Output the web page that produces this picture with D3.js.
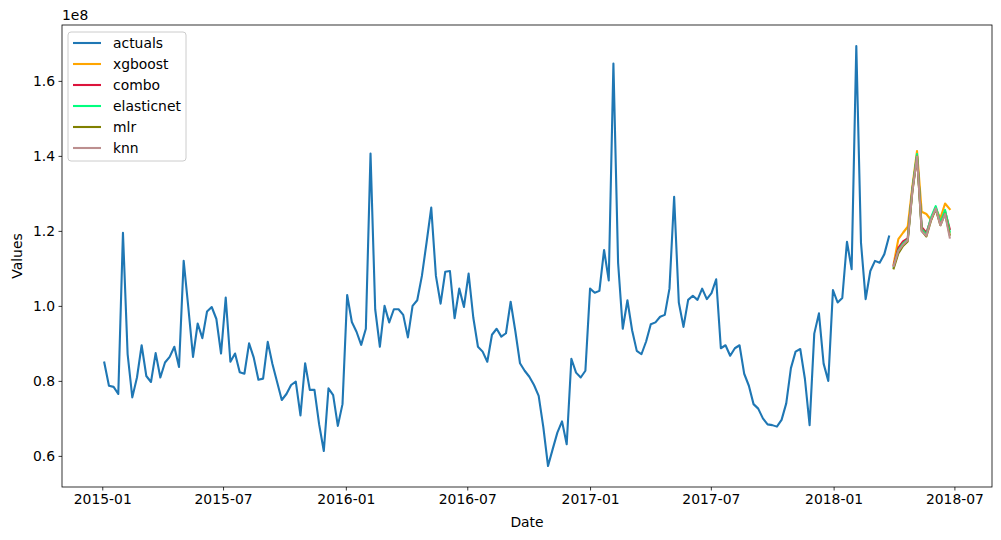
<!DOCTYPE html>
<html>
<head>
<meta charset="utf-8">
<style>
  body { margin: 0; background: #fff; }
  svg { display: block; font-family: "DejaVu Sans", sans-serif; }
  .axis text { font-size: 13.9px; fill: #000; font-family: "DejaVu Sans", sans-serif; }
  .axis path, .axis line { stroke: #000; stroke-width: 0.8; }
</style>
</head>
<body>
<svg id="chart" width="1001" height="540"></svg>
<script src="https://d3js.org/d3.v7.min.js"></script>
<script>
// weekly dates, first week of actuals; forecasts follow on directly
var startDate = new Date(2015, 0, 4);

// actuals (units of 1e8), 2015-01-04 .. 2018-03-25
var actuals = [
  0.849, 0.787, 0.784, 0.765, 1.195, 0.871, 0.756, 0.809, 0.895, 0.813,
  0.797, 0.874, 0.809, 0.849, 0.864, 0.891, 0.837, 1.120, 0.995, 0.864,
  0.953, 0.914, 0.985, 0.997, 0.965, 0.873, 1.022, 0.851, 0.873, 0.823,
  0.819, 0.900, 0.862, 0.803, 0.806, 0.904, 0.845, 0.797, 0.749, 0.765,
  0.789, 0.798, 0.708, 0.847, 0.776, 0.776, 0.684, 0.613, 0.780, 0.762,
  0.680, 0.738, 1.029, 0.957, 0.931, 0.896, 0.939, 1.406, 0.991, 0.891,
  1.000, 0.956, 0.991, 0.991, 0.976, 0.916, 1.000, 1.015, 1.080, 1.169,
  1.262, 1.080, 1.006, 1.091, 1.093, 0.967, 1.046, 0.997, 1.086, 0.969,
  0.891, 0.878, 0.851, 0.923, 0.939, 0.918, 0.927, 1.011, 0.933, 0.847,
  0.827, 0.811, 0.789, 0.760, 0.676, 0.573, 0.618, 0.662, 0.692, 0.631,
  0.859, 0.822, 0.809, 0.827, 1.046, 1.035, 1.040, 1.149, 1.068, 1.646,
  1.115, 0.939, 1.015, 0.935, 0.880, 0.871, 0.905, 0.951, 0.956, 0.971,
  0.976, 1.046, 1.291, 1.009, 0.944, 1.016, 1.027, 1.016, 1.046, 1.018,
  1.034, 1.071, 0.887, 0.895, 0.867, 0.887, 0.895, 0.819, 0.787, 0.738,
  0.726, 0.700, 0.684, 0.682, 0.678, 0.696, 0.740, 0.834, 0.878, 0.885,
  0.805, 0.682, 0.926, 0.980, 0.846, 0.800, 1.042, 1.009, 1.021, 1.171,
  1.098, 1.693, 1.169, 1.018, 1.093, 1.120, 1.115, 1.138, 1.185
];

// forecasts (units of 1e8), 2018-04-01 .. 2018-06-24
var xgboost    = [1.112, 1.178, 1.195, 1.211, 1.318, 1.413, 1.251, 1.245, 1.229, 1.260, 1.234, 1.273, 1.258];
var combo      = [1.108, 1.155, 1.172, 1.180, 1.310, 1.400, 1.210, 1.195, 1.232, 1.262, 1.220, 1.252, 1.205];
var elasticnet = [1.104, 1.148, 1.166, 1.177, 1.310, 1.405, 1.205, 1.190, 1.236, 1.266, 1.222, 1.256, 1.198];
var mlr        = [1.100, 1.140, 1.160, 1.172, 1.305, 1.398, 1.200, 1.185, 1.228, 1.258, 1.215, 1.246, 1.190];
var knn        = [1.106, 1.146, 1.163, 1.175, 1.305, 1.398, 1.199, 1.187, 1.230, 1.260, 1.215, 1.245, 1.182];

var seriesNames  = ["actuals", "xgboost", "combo", "elasticnet", "mlr", "knn"];
var seriesColors = ["#1f77b4", "#ffa500", "#dc143c", "#00ff7f", "#808000", "#bc8f8f"];

var xTickLabels = ["2015-01", "2015-07", "2016-01", "2016-07", "2017-01", "2017-07", "2018-01", "2018-07"];
var yTicks = [0.6, 0.8, 1.0, 1.2, 1.4, 1.6];

function weekDate(i) { return d3.timeDay.offset(startDate, 7 * i); }

var series = [
  actuals.map(function(v, i) { return {date: weekDate(i), value: v}; })
].concat([xgboost, combo, elasticnet, mlr, knn].map(function(arr) {
  return arr.map(function(v, i) { return {date: weekDate(actuals.length + i), value: v}; });
}));

var svg = d3.select("#chart"),
    margin = {top: 25, right: 9, bottom: 53, left: 62},
    width = +svg.attr("width") - margin.left - margin.right,
    height = +svg.attr("height") - margin.top - margin.bottom,
    g = svg.append("g").attr("transform", "translate(" + margin.left + "," + margin.top + ")");

// matplotlib style 5% margins
var all = d3.merge(series);
var xExt = d3.extent(all, function(d) { return +d.date; }),
    yExt = d3.extent(all, function(d) { return d.value; });
var xPad = (xExt[1] - xExt[0]) * 0.05,
    yPad = (yExt[1] - yExt[0]) * 0.05;

var x = d3.scaleTime()
    .domain([new Date(xExt[0] - xPad), new Date(xExt[1] + xPad)])
    .range([0, width]);

var y = d3.scaleLinear()
    .domain([yExt[0] - yPad, yExt[1] + yPad])
    .range([height, 0]);

var parseTick = d3.timeParse("%Y-%m");

g.append("g")
    .attr("class", "axis")
    .attr("transform", "translate(0," + height + ")")
    .call(d3.axisBottom(x)
        .tickValues(xTickLabels.map(parseTick))
        .tickFormat(d3.timeFormat("%Y-%m"))
        .tickSizeInner(3.5).tickSizeOuter(0).tickPadding(3.5))
    .call(function(a) { a.select(".domain").remove(); });

g.append("g")
    .attr("class", "axis")
    .call(d3.axisLeft(y)
        .tickValues(yTicks)
        .tickFormat(d3.format(".1f"))
        .tickSizeInner(3.5).tickSizeOuter(0).tickPadding(3.5))
    .call(function(a) { a.select(".domain").remove(); });

// lines
var line = d3.line()
    .x(function(d) { return x(d.date); })
    .y(function(d) { return y(d.value); });

g.append("g")
    .selectAll("path")
    .data(series)
    .enter().append("path")
    .attr("fill", "none")
    .attr("stroke", function(d, i) { return seriesColors[i]; })
    .attr("stroke-width", 2.1)
    .attr("stroke-linejoin", "round")
    .attr("stroke-linecap", "square")
    .attr("d", line);

// frame
g.append("rect")
    .attr("width", width)
    .attr("height", height)
    .attr("fill", "none")
    .attr("stroke", "#000")
    .attr("stroke-width", 0.8);

// labels
svg.append("text")
    .attr("x", margin.left)
    .attr("y", margin.top - 5)
    .attr("font-size", "13.9px")
    .text("1e8");

svg.append("text")
    .attr("x", margin.left + width / 2)
    .attr("y", 527)
    .attr("text-anchor", "middle")
    .attr("font-size", "13.9px")
    .text("Date");

svg.append("text")
    .attr("transform", "translate(22," + (margin.top + height / 2) + ") rotate(-90)")
    .attr("text-anchor", "middle")
    .attr("font-size", "13.9px")
    .text("Values");

// legend
var legend = g.append("g").attr("transform", "translate(6,7)");

legend.append("rect")
    .attr("width", 118)
    .attr("height", 129)
    .attr("rx", 3)
    .attr("fill", "#fff")
    .attr("fill-opacity", 0.8)
    .attr("stroke", "#cccccc")
    .attr("stroke-width", 1);

var item = legend.selectAll(".item")
    .data(seriesNames)
    .enter().append("g")
    .attr("class", "item")
    .attr("transform", function(d, i) { return "translate(0," + (11 + i * 21) + ")"; });

item.append("line")
    .attr("x1", 5).attr("x2", 33)
    .attr("stroke", function(d, i) { return seriesColors[i]; })
    .attr("stroke-width", 2.1);

item.append("text")
    .attr("x", 45)
    .attr("dy", "0.35em")
    .attr("font-size", "13.9px")
    .text(function(d) { return d; });
</script>
</body>
</html>
